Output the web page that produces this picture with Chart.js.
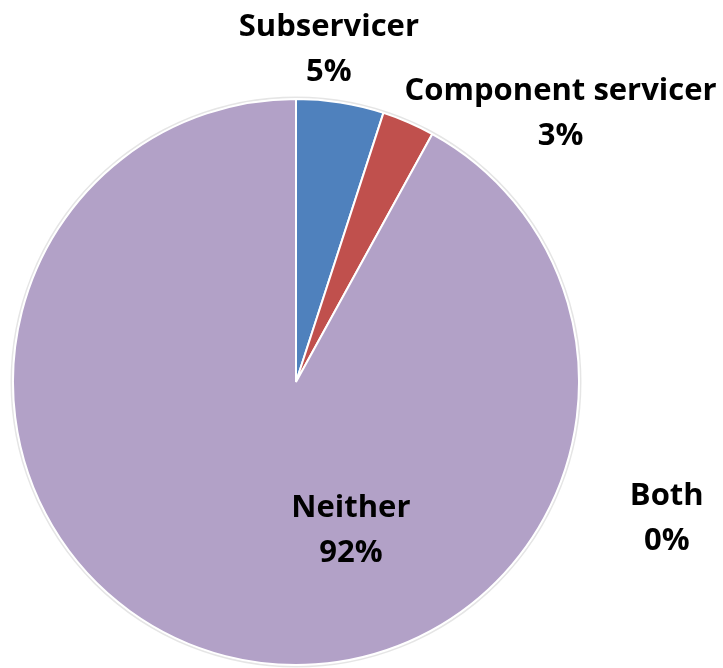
<!DOCTYPE html>
<html>
<head>
<meta charset="utf-8">
<title>Servicer type</title>
<script src="https://cdn.jsdelivr.net/npm/chart.js@4/dist/chart.umd.min.js"></script>
<style>
  html, body { margin: 0; padding: 0; background: #ffffff; }
  canvas { display: block; }
</style>
</head>
<body>
<canvas id="chart" width="723" height="668"></canvas>
<script>
    // servicer categories and their share of respondents (%)
    var categories = ['Subservicer', 'Component servicer', 'Both', 'Neither'];
    var shares = [5, 3, 0, 92];
    var sliceColors = ['#4F81BD', '#C0504D', '#9BBB59', '#B2A1C7'];

    // where each label block sits, as offsets from the pie centre in radius units
    var labelOffsets = [[0.116, -1.143], [0.935, -0.917], [1.31, 0.514], [0.194, 0.558]];

    var pieLabels = {
        id: 'pieLabels',
        beforeDatasetsDraw: function (chart) {
            // thin grey halo round the rim
            var arc = chart.getDatasetMeta(0).data[0];
            var ctx = chart.ctx;
            ctx.save();
            ctx.beginPath();
            ctx.arc(arc.x, arc.y, arc.outerRadius + 1.5, 0, Math.PI * 2);
            ctx.strokeStyle = 'rgba(0,0,0,0.10)';
            ctx.lineWidth = 2;
            ctx.stroke();
            ctx.restore();
        },
        afterDatasetsDraw: function (chart) {
            var ctx = chart.ctx;
            var meta = chart.getDatasetMeta(0);
            var values = chart.data.datasets[0].data;
            var total = values.reduce(function (a, b) { return a + b; }, 0);
            ctx.save();
            ctx.font = 'bold 31px "Open Sans"';
            ctx.fillStyle = '#000000';
            ctx.textAlign = 'center';
            ctx.textBaseline = 'alphabetic';
            meta.data.forEach(function (arc, i) {
                var r = arc.outerRadius;
                var x = arc.x + labelOffsets[i][0] * r;
                var y = arc.y + labelOffsets[i][1] * r;
                var pct = Math.round(values[i] / total * 100) + '%';
                ctx.fillText(chart.data.labels[i], x, y - 22.5);
                ctx.fillText(pct, x, y + 22.5);
            });
            ctx.restore();
        }
    };

    var ctx = document.getElementById('chart').getContext('2d');
    var chart = new Chart(ctx, {
        type: 'pie',
        data: {
            labels: categories,
            datasets: [{
                data: shares,
                backgroundColor: sliceColors,
                borderColor: '#ffffff',
                borderWidth: 2
            }]
        },
        options: {
            responsive: false,
            animation: false,
            layout: {
                padding: { left: 0, right: 131, top: 98, bottom: 2 }
            },
            plugins: {
                legend: { display: false },
                tooltip: { enabled: false }
            }
        },
        plugins: [pieLabels]
    });
</script>
</body>
</html>
